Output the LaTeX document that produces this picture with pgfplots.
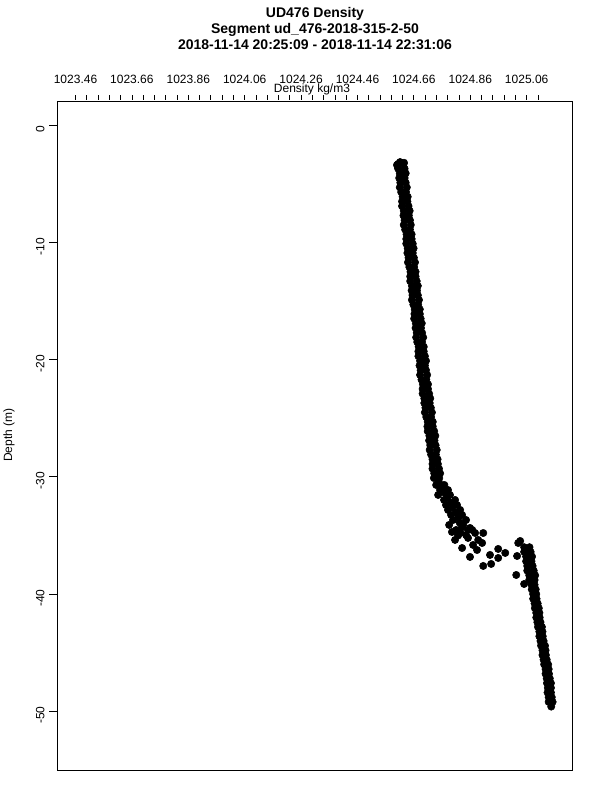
\documentclass[border=0pt]{standalone}
\usepackage{pgfplots}
\pgfplotsset{compat=1.18}
\usepackage{pgfplotstable}
\usepackage{fontspec}
\setmainfont{Liberation Sans}
\pgfplotstableread{
x y
1024.611 -3.14
1024.600 -3.39
1024.625 -3.20
1024.604 -3.3
1024.623 -3.3
1024.604 -3.7
1024.627 -3.7
1024.610 -4.1
1024.631 -4.1
1024.608 -4.5
1024.627 -4.5
1024.612 -4.9
1024.631 -4.9
1024.610 -5.3
1024.635 -5.3
1024.615 -5.7
1024.632 -5.7
1024.620 -6.1
1024.638 -6.1
1024.618 -6.5
1024.637 -6.5
1024.618 -6.9
1024.641 -6.9
1024.624 -7.3
1024.645 -7.3
1024.623 -7.7
1024.642 -7.7
1024.627 -8.1
1024.646 -8.1
1024.624 -8.5
1024.649 -8.5
1024.629 -8.9
1024.646 -8.9
1024.634 -9.3
1024.652 -9.3
1024.633 -9.7
1024.652 -9.7
1024.633 -10.1
1024.656 -10.1
1024.638 -10.5
1024.659 -10.5
1024.637 -10.9
1024.656 -10.9
1024.641 -11.3
1024.660 -11.3
1024.639 -11.7
1024.664 -11.7
1024.644 -12.1
1024.661 -12.1
1024.648 -12.5
1024.666 -12.5
1024.647 -12.9
1024.666 -12.9
1024.647 -13.3
1024.670 -13.3
1024.653 -13.7
1024.674 -13.7
1024.652 -14.1
1024.671 -14.1
1024.655 -14.5
1024.674 -14.5
1024.653 -14.9
1024.678 -14.9
1024.658 -15.3
1024.675 -15.3
1024.663 -15.7
1024.681 -15.7
1024.662 -16.1
1024.681 -16.1
1024.661 -16.5
1024.684 -16.5
1024.667 -16.9
1024.688 -16.9
1024.666 -17.3
1024.685 -17.3
1024.670 -17.7
1024.689 -17.7
1024.668 -18.1
1024.693 -18.1
1024.672 -18.5
1024.689 -18.5
1024.677 -18.9
1024.695 -18.9
1024.676 -19.3
1024.695 -19.3
1024.676 -19.7
1024.699 -19.7
1024.682 -20.1
1024.703 -20.1
1024.680 -20.5
1024.699 -20.5
1024.684 -20.9
1024.703 -20.9
1024.682 -21.3
1024.707 -21.3
1024.687 -21.7
1024.704 -21.7
1024.692 -22.1
1024.710 -22.1
1024.691 -22.5
1024.710 -22.5
1024.691 -22.9
1024.714 -22.9
1024.697 -23.3
1024.718 -23.3
1024.697 -23.7
1024.716 -23.7
1024.701 -24.1
1024.720 -24.1
1024.699 -24.5
1024.724 -24.5
1024.704 -24.9
1024.721 -24.9
1024.709 -25.3
1024.727 -25.3
1024.708 -25.7
1024.727 -25.7
1024.709 -26.1
1024.732 -26.1
1024.715 -26.5
1024.736 -26.5
1024.714 -26.9
1024.733 -26.9
1024.718 -27.3
1024.737 -27.3
1024.716 -27.7
1024.741 -27.7
1024.721 -28.1
1024.738 -28.1
1024.726 -28.5
1024.744 -28.5
1024.726 -28.9
1024.745 -28.9
1024.726 -29.3
1024.749 -29.3
1024.732 -29.7
1024.753 -29.7
1024.731 -30.1
1024.750 -30.1
1024.748 -30.40
1024.739 -30.69
1024.768 -30.69
1024.760 -30.90
1024.753 -31.12
1024.781 -31.12
1024.767 -31.33
1024.746 -31.54
1024.788 -31.54
1024.778 -31.75
1024.767 -31.97
1024.806 -31.97
1024.790 -32.20
1024.774 -32.40
1024.813 -32.40
1024.797 -32.60
1024.781 -32.82
1024.824 -32.82
1024.808 -33.05
1024.792 -33.25
1024.831 -33.25
1024.818 -33.45
1024.799 -33.68
1024.845 -33.68
1024.822 -33.90
1024.785 -34.10
1024.835 -34.10
1024.830 -34.30
1024.810 -34.53
1024.852 -34.53
1024.825 -34.75
1024.795 -34.70
1024.817 -35.00
1024.806 -35.38
1024.831 -36.07
1024.859 -36.83
1024.884 -36.24
1024.902 -35.64
1024.906 -34.79
1024.867 -34.53
1024.845 -34.96
1024.930 -36.66
1024.906 -37.60
1024.934 -37.43
1024.959 -36.92
1024.959 -36.15
1024.984 -36.49
1025.030 -35.64
1025.037 -35.47
1025.026 -36.75
1025.023 -38.37
1025.051 -39.14
1025.058 -36.41
1024.859 -34.36
1024.877 -34.79
1024.888 -35.38
1024.852 -35.21
1024.870 -35.81
1025.051 -36.0
1025.070 -36.0
1025.051 -36.4
1025.074 -36.4
1025.058 -36.8
1025.079 -36.8
1025.058 -37.2
1025.077 -37.2
1025.062 -37.6
1025.081 -37.6
1025.062 -38.0
1025.085 -38.0
1025.069 -38.4
1025.090 -38.4
1025.069 -38.8
1025.088 -38.8
1025.077 -39.2
1025.088 -39.2
1025.078 -39.6
1025.092 -39.6
1025.083 -40.0
1025.094 -40.0
1025.083 -40.4
1025.095 -40.4
1025.088 -40.8
1025.099 -40.8
1025.089 -41.2
1025.103 -41.2
1025.094 -41.6
1025.105 -41.6
1025.094 -42.0
1025.106 -42.0
1025.098 -42.4
1025.109 -42.4
1025.100 -42.8
1025.114 -42.8
1025.105 -43.2
1025.116 -43.2
1025.105 -43.6
1025.117 -43.6
1025.109 -44.0
1025.120 -44.0
1025.111 -44.4
1025.125 -44.4
1025.116 -44.8
1025.127 -44.8
1025.116 -45.2
1025.128 -45.2
1025.120 -45.6
1025.131 -45.6
1025.122 -46.0
1025.136 -46.0
1025.127 -46.4
1025.138 -46.4
1025.127 -46.8
1025.139 -46.8
1025.131 -47.2
1025.142 -47.2
1025.132 -47.6
1025.146 -47.6
1025.135 -48.0
1025.146 -48.0
1025.134 -48.4
1025.146 -48.4
1025.138 -48.8
1025.149 -48.8
1025.138 -49.2
1025.152 -49.2
1025.147 -49.6
}\densitydata
\begin{document}
\begin{tikzpicture}[font=\fontsize{9pt}{11pt}\selectfont]
\path[use as bounding box] (0,0) rectangle (450pt,600pt);
\begin{axis}[
  at={(42.975pt,22.5pt)}, anchor=south west,
  scale only axis, width=386.55pt, height=501.75pt,
  xmin=1023.3954, xmax=1025.2232,
  ymin=-55.01, ymax=2.07,
  clip=false,
  axis line style={line width=0.6pt},
  xtick=\empty,
  ytick={0,-10,-20,-30,-40,-50},
  yticklabels={0,-10,-20,-30,-40,-50},
  ytick pos=left, tick align=outside,
  major tick length=6pt,
  tick style={line width=0.6pt, black},
  yticklabel style={rotate=90, anchor=south, xshift=-3pt, font=\fontsize{9pt}{11pt}\selectfont},
]
\addplot[only marks, mark=*, mark size=2.75pt, black] table[x=x,y=y] {\densitydata};
\pgfplotsinvokeforeach{1023.46,1023.50,1023.54,1023.58,1023.62,1023.66,1023.70,1023.74,1023.78,1023.82,1023.86,1023.90,1023.94,1023.98,1024.02,1024.06,1024.10,1024.14,1024.18,1024.22,1024.26,1024.30,1024.34,1024.38,1024.42,1024.46,1024.50,1024.54,1024.58,1024.62,1024.66,1024.70,1024.74,1024.78,1024.82,1024.86,1024.90,1024.94,1024.98,1025.02,1025.06,1025.10}{
  \draw[line width=0.6pt] ([yshift=0.75pt]axis cs:#1,2.07) -- ([yshift=4.5pt]axis cs:#1,2.07);
}
\pgfplotsinvokeforeach{1023.46,1023.66,1023.86,1024.06,1024.26,1024.46,1024.66,1024.86,1025.06}{
  \node[anchor=base, inner sep=0pt, yshift=12.75pt] at (axis cs:#1,2.07) {#1};
}
\end{axis}
\node[anchor=base, inner sep=0pt] at (234pt,530.25pt) {Density kg/m3};
\node[rotate=90, inner sep=0pt] at (6.75pt,273.75pt) {Depth (m)};
\node[anchor=base, inner sep=0pt, font=\fontsize{10.5pt}{12pt}\selectfont\bfseries] at (236.25pt,587pt) {UD476 Density};
\node[anchor=base, inner sep=0pt, font=\fontsize{10.5pt}{12pt}\selectfont\bfseries] at (236.25pt,574.7pt) {Segment ud\_476-2018-315-2-50};
\node[anchor=base, inner sep=0pt, font=\fontsize{10.5pt}{12pt}\selectfont\bfseries] at (236.25pt,562.5pt) {2018-11-14 20:25:09 - 2018-11-14 22:31:06};
\end{tikzpicture}
\end{document}
